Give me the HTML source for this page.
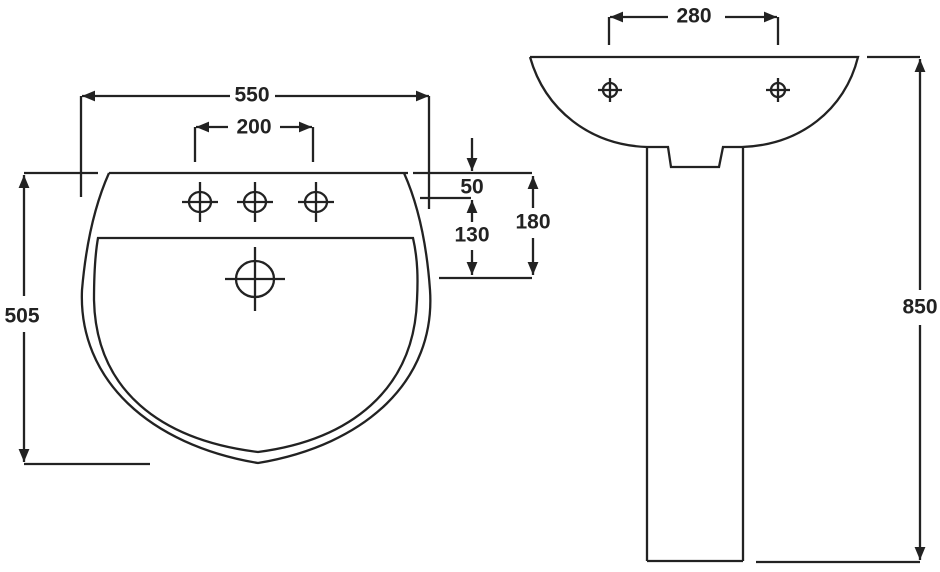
<!DOCTYPE html>
<html><head><meta charset="utf-8"><style>
html,body{margin:0;padding:0;background:#fff;}
svg{display:block;}
text{font-family:"Liberation Sans",sans-serif;font-size:21px;font-weight:bold;fill:#222;text-anchor:middle;dominant-baseline:central;}
</style></head><body>
<svg width="940" height="572" viewBox="0 0 940 572" xmlns="http://www.w3.org/2000/svg">
<defs>
<marker id="a" viewBox="0 0 12 10" refX="12" refY="5" markerWidth="13" markerHeight="11" markerUnits="userSpaceOnUse" orient="auto"><path d="M0,0L12,5L0,10z" fill="#222"/></marker>
</defs>
<g stroke="#222" stroke-width="2.3" fill="none">
<line x1="230" y1="96" x2="82" y2="96" marker-end="url(#a)"/>
<line x1="275" y1="96" x2="429" y2="96" marker-end="url(#a)"/>
<line x1="81" y1="96" x2="81" y2="197"/>
<line x1="429" y1="96" x2="429" y2="209"/>
<line x1="228" y1="127" x2="196" y2="127" marker-end="url(#a)"/>
<line x1="280" y1="127" x2="312" y2="127" marker-end="url(#a)"/>
<line x1="195" y1="127" x2="195" y2="162"/>
<line x1="313" y1="127" x2="313" y2="162"/>
<line x1="24" y1="173" x2="98" y2="173"/>
<line x1="109" y1="173" x2="408" y2="173"/>
<line x1="413" y1="173" x2="532" y2="173"/>
<path d="M109,173 Q88,220 82,290 C78,380 150,445 258,463 C366,445 436,380 430,290 Q425,220 404,173"/>
<path d="M98,238 L413,238 C418,260 418,280 417,300 C414,390 350,440 258,452 C160,440 96,390 94,300 C94,280 95,255 98,238 Z"/>
<ellipse cx="200" cy="202" rx="11" ry="10"/><line x1="182" y1="202" x2="218" y2="202"/><line x1="200" y1="182" x2="200" y2="222"/>
<ellipse cx="255" cy="202" rx="11" ry="10"/><line x1="237" y1="202" x2="273" y2="202"/><line x1="255" y1="182" x2="255" y2="222"/>
<ellipse cx="316" cy="202" rx="11" ry="10"/><line x1="298" y1="202" x2="334" y2="202"/><line x1="316" y1="182" x2="316" y2="222"/>
<ellipse cx="255" cy="279" rx="19" ry="18"/><line x1="225" y1="279" x2="285" y2="279"/><line x1="255" y1="247" x2="255" y2="311"/>
<line x1="472" y1="138" x2="472" y2="171" marker-end="url(#a)"/>
<line x1="420" y1="198" x2="471" y2="198"/>
<line x1="472" y1="222" x2="472" y2="200" marker-end="url(#a)"/>
<line x1="472" y1="250" x2="472" y2="275" marker-end="url(#a)"/>
<line x1="439" y1="278" x2="532" y2="278"/>
<line x1="533" y1="208" x2="533" y2="176" marker-end="url(#a)"/>
<line x1="533" y1="238" x2="533" y2="275" marker-end="url(#a)"/>
<line x1="24" y1="296" x2="24" y2="175" marker-end="url(#a)"/>
<line x1="24" y1="332" x2="24" y2="462" marker-end="url(#a)"/>
<line x1="24" y1="464" x2="150" y2="464"/>
<line x1="668" y1="17" x2="610" y2="17" marker-end="url(#a)"/>
<line x1="725" y1="17" x2="777" y2="17" marker-end="url(#a)"/>
<line x1="609" y1="17" x2="609" y2="45"/>
<line x1="778" y1="17" x2="778" y2="45"/>
<path d="M530,57 L858,57 C845,110 800,145 742,147 L723,147 L719,167 L671,167 L668,147 L647,147 C590,145 545,110 530,57"/>
<line x1="647" y1="147" x2="647" y2="561"/>
<line x1="743" y1="147" x2="743" y2="561"/>
<line x1="647" y1="561" x2="743" y2="561"/>
<ellipse cx="610" cy="90" rx="7" ry="7"/><line x1="598" y1="90" x2="622" y2="90"/><line x1="610" y1="78" x2="610" y2="102"/>
<ellipse cx="778" cy="90" rx="7" ry="7"/><line x1="766" y1="90" x2="790" y2="90"/><line x1="778" y1="78" x2="778" y2="102"/>
<line x1="867" y1="57" x2="920" y2="57"/>
<line x1="920" y1="290" x2="920" y2="59" marker-end="url(#a)"/>
<line x1="920" y1="325" x2="920" y2="560" marker-end="url(#a)"/>
<line x1="756" y1="562" x2="920" y2="562"/>
</g>
<text x="252" y="95">550</text>
<text x="254" y="127">200</text>
<text x="472" y="187">50</text>
<text x="472" y="235">130</text>
<text x="533" y="222">180</text>
<text x="22" y="316">505</text>
<text x="694" y="16">280</text>
<text x="920" y="307">850</text>
</svg>
</body></html>
